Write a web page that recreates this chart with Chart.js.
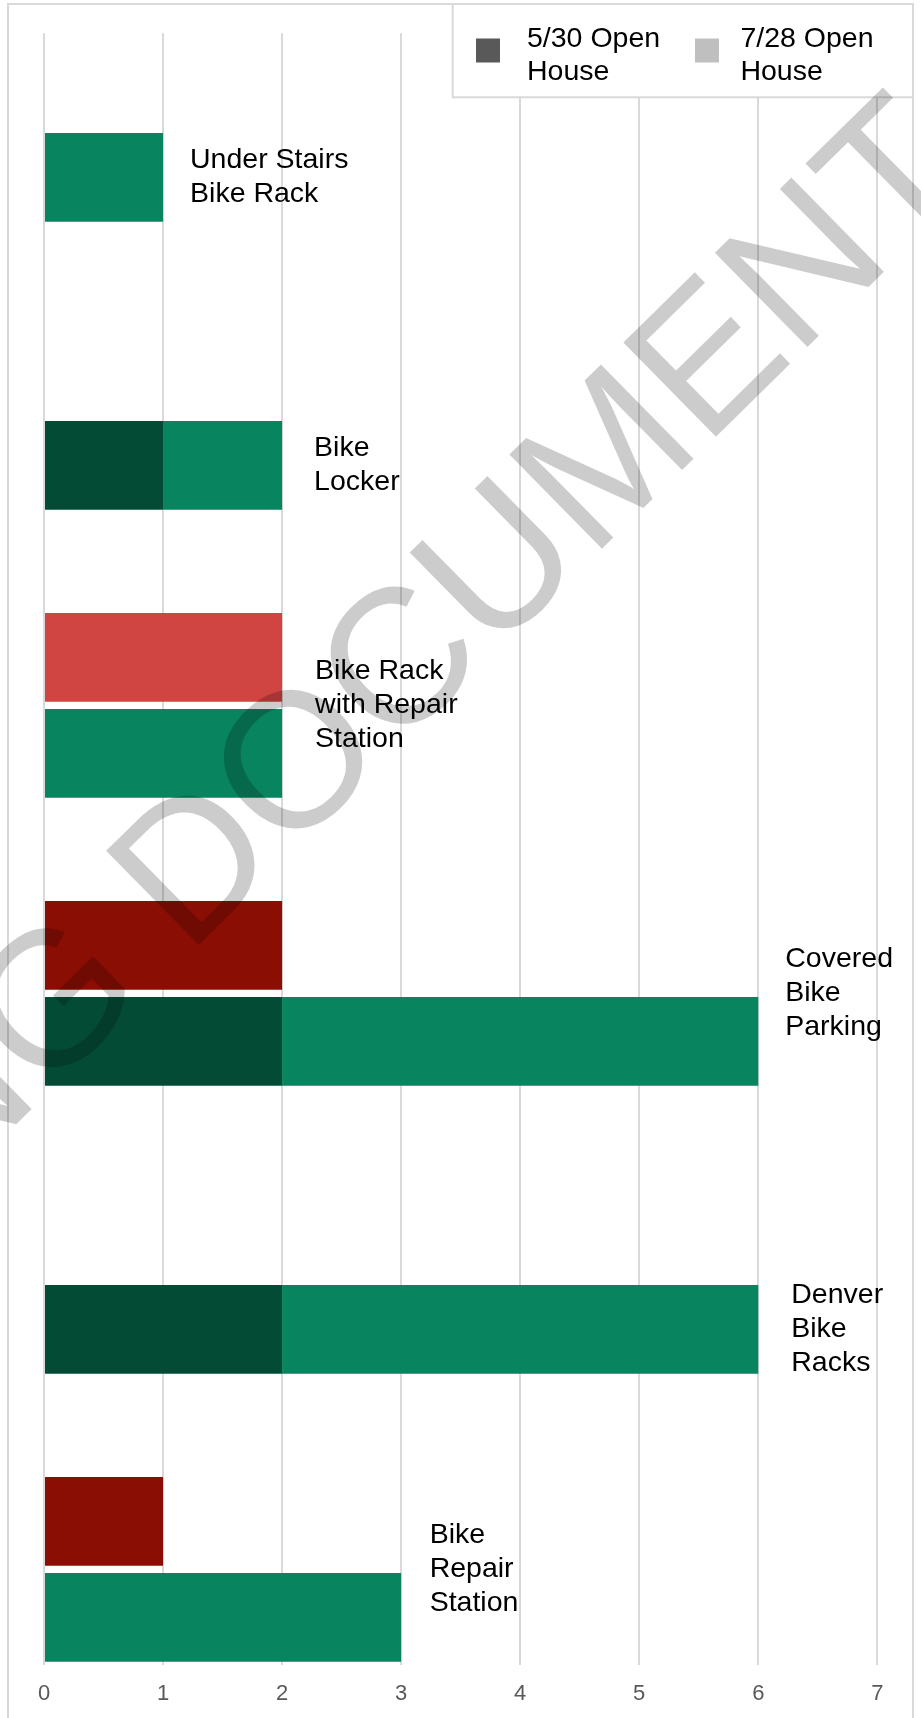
<!DOCTYPE html>
<html>
<head>
<meta charset="utf-8">
<script src="https://cdn.jsdelivr.net/npm/chart.js@4.4.1/dist/chart.umd.min.js"></script>
<style>
html, body { margin: 0; padding: 0; background: #ffffff; }
#wrap { position: relative; width: 921px; height: 1718px; }
</style>
</head>
<body>
<div id="wrap"><canvas id="c"></canvas></div>
<script>
// ---- data ----
const categories = [
  ["Under Stairs", "Bike Rack"],
  ["Bike", "Locker"],
  ["Bike Rack", "with Repair", "Station"],
  ["Covered", "Bike", "Parking"],
  ["Denver", "Bike", "Racks"],
  ["Bike", "Repair", "Station"]
];
const seriesNames = [["5/30 Open", "House"], ["7/28 Open", "House"]];
const likes0530    = [0, 1, 0, 2, 2, 0];
const likes0728    = [1, 1, 2, 4, 4, 3];
const dislikes0530 = [0, 0, 0, 2, 0, 1];
const dislikes0728 = [0, 0, 2, 0, 0, 0];
const xTickMin = 0;
const xTickMax = 7;
const watermark = "WORKING DOCUMENT";

// ---- styles ----
const FONT = "'Liberation Sans', Arial, Helvetica, sans-serif";
const colors = {
  like:    ["#044B36", "#08845F"],
  dislike: ["#8B0E04", "#D04441"],
  legend:  ["#595959", "#BFBFBF"]
};

// ---- table built for the library: one row per bar slot ----
const rows = [];
categories.forEach((c, i) => {
  if (i > 0) rows.push({ cat: i, kind: "gap" });
  rows.push({ cat: i, kind: "dislike" });
  rows.push({ cat: i, kind: "like" });
});
const seriesData = [
  { like: likes0530, dislike: dislikes0530 },
  { like: likes0728, dislike: dislikes0728 }
];
function rowValue(s, r) {
  if (r.kind === "gap") return null;
  const v = seriesData[s][r.kind][r.cat];
  return v ? v : null;
}
const datasets = [0, 1].map(s => ({
  label: seriesNames[s].join(" "),
  data: rows.map(r => rowValue(s, r)),
  backgroundColor: rows.map(r => r.kind === "gap" ? "rgba(0,0,0,0)" : colors[r.kind][s]),
  borderWidth: 0,
  barPercentage: 0.924,
  categoryPercentage: 1
}));
const rowLabels = rows.map((r, k) => r.kind === "gap" ? "gap " + k : categories[r.cat].join(" ") + " (" + r.kind + ")");

// ---- plugins ----
const framePlugin = {
  id: "frame",
  beforeDraw(chart) {
    const ctx = chart.ctx;
    ctx.save();
    ctx.strokeStyle = "#D9D9D9";
    ctx.lineWidth = 2;
    ctx.strokeRect(8, 4, 905, 1800);
    ctx.restore();
  }
};

const labelPlugin = {
  id: "catLabels",
  afterDatasetsDraw(chart, args, opts) {
    const { ctx, scales: { x, y } } = chart;
    ctx.save();
    ctx.font = "28.5px " + FONT;
    ctx.fillStyle = "#000000";
    ctx.textAlign = "left";
    ctx.textBaseline = "middle";
    categories.forEach((lines, i) => {
      let maxTotal = 0;
      const ys = [];
      rows.forEach((r, k) => {
        if (r.cat !== i || r.kind === "gap") return;
        const tot = chart.data.datasets.reduce((a, d) => a + (d.data[k] || 0), 0);
        if (tot > 0) {
          ys.push(y.getPixelForValue(k));
          maxTotal = Math.max(maxTotal, tot);
        }
      });
      if (!ys.length) return;
      const cy = ys.reduce((a, b) => a + b, 0) / ys.length;
      const lx = x.getPixelForValue(maxTotal) + opts.dx[i];
      const lh = opts.lineHeight;
      lines.forEach((t, k) => ctx.fillText(t, lx, cy + (k - (lines.length - 1) / 2) * lh));
    });
    ctx.restore();
  }
};

const legendPlugin = {
  id: "boxLegend",
  afterDatasetsDraw(chart) {
    const ctx = chart.ctx;
    const box = { x: 452.7, y: 4, w: 460.3, h: 93.3 };
    const items = [{ sw: 476, tx: 527 }, { sw: 695, tx: 740.4 }];
    ctx.save();
    ctx.fillStyle = "#ffffff";
    ctx.fillRect(box.x, box.y, box.w, box.h);
    ctx.strokeStyle = "#D9D9D9";
    ctx.lineWidth = 2;
    ctx.strokeRect(box.x, box.y, box.w, box.h);
    ctx.font = "28.5px " + FONT;
    ctx.textAlign = "left";
    ctx.textBaseline = "alphabetic";
    seriesNames.forEach((lines, s) => {
      ctx.fillStyle = colors.legend[s];
      ctx.fillRect(items[s].sw, 38.5, 24, 24);
      ctx.fillStyle = "#000000";
      lines.forEach((t, k) => ctx.fillText(t, items[s].tx, 46.7 + k * 33.3));
    });
    ctx.restore();
  }
};

const watermarkPlugin = {
  id: "watermark",
  afterDraw(chart) {
    const ctx = chart.ctx;
    ctx.save();
    ctx.font = "192px " + FONT;
    ctx.fillStyle = "rgba(0,0,0,0.2)";
    ctx.textBaseline = "alphabetic";
    ctx.textAlign = "left";
    ctx.translate(187.5, 956);
    ctx.rotate(-44.5 * Math.PI / 180);
    const pre = ctx.measureText(watermark.slice(0, watermark.indexOf("DOCUMENT"))).width;
    ctx.fillText(watermark, -pre, 0);
    ctx.restore();
  }
};

new Chart(document.getElementById("c"), {
  type: "bar",
  data: { labels: rowLabels, datasets },
  options: {
    responsive: true,
    maintainAspectRatio: false,
    animation: false,
    indexAxis: "y",
    layout: { padding: { left: 44, right: 43.7, top: 33.3, bottom: 0 } },
    plugins: {
      legend: { display: false },
      tooltip: { enabled: false },
      catLabels: { dx: [27, 32, 33, 27, 33, 28.5], lineHeight: 34 }
    },
    scales: {
      x: {
        type: "linear",
        stacked: true,
        position: "bottom",
        min: xTickMin,
        max: xTickMax,
        ticks: { stepSize: 1, color: "#595959", font: { family: FONT, size: 22 }, padding: 15.5 },
        grid: { color: "#D9D9D9", lineWidth: 2, drawTicks: false },
        border: { display: false },
        afterFit(s) { s.height = 52.7; }
      },
      y: { type: "category", stacked: true, display: false, offset: true }
    }
  },
  plugins: [framePlugin, labelPlugin, legendPlugin, watermarkPlugin]
});
</script>
</body>
</html>
